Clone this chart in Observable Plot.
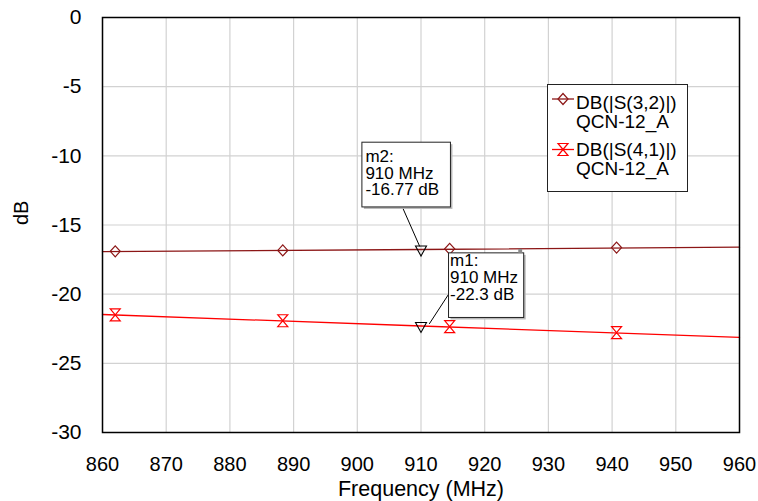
<!DOCTYPE html>
<html>
<head>
<meta charset="utf-8">
<script src="https://cdn.jsdelivr.net/npm/d3@7"></script>
<script src="https://cdn.jsdelivr.net/npm/@observablehq/plot@0.6"></script>
<style>
  html, body { margin: 0; padding: 0; background: white; }
  #wrap { position: relative; width: 758px; height: 501px; font-family: "Liberation Sans", Arial, sans-serif; }
  #legend { position: absolute; left: 547px; top: 84px; width: 141px; height: 108px; box-sizing: border-box; border: 1px solid #222; background: white; }
</style>
</head>
<body>
<div id="wrap"></div>
<script>
// ---- Data ----
const xTicks = [860, 870, 880, 890, 900, 910, 920, 930, 940, 950, 960];
const yTicks = [0, -5, -10, -15, -20, -25, -30];

const lineFreq = [860, 910, 960];
const s32Line = [-16.93, -16.77, -16.60];
const s41Line = [-21.47, -22.30, -23.13];

const markerFreq = [862, 888.3, 914.5, 940.7];
const s32Markers = [-16.90, -16.84, -16.72, -16.63];
const s41Markers = [-21.50, -21.92, -22.35, -22.78];

const seriesNames = ["DB(|S(3,2)|)", "DB(|S(4,1)|)"];
const seriesSub = ["QCN-12_A", "QCN-12_A"];
const seriesColors = ["#8c1616", "#ff0000"];

// marker annotations (data coordinates)
const markerNames = ["m2", "m1"];
const markerAtFreq = [910, 910];
const markerAtDb = [-16.77, -22.3];
const markerText = ["m2:\n910 MHz\n-16.77 dB", "m1:\n910 MHz\n-22.3 dB"];
const boxX1 = [900.8, 914.4];
const boxX2 = [914.7, 926.2];
const boxY1 = [-9.05, -17.05];
const boxY2 = [-13.73, -21.72];
const leadX1 = [907.1, 914.4];
const leadY1 = [-13.73, -19.96];
const leadX2 = [909.8, 911.3];
const leadY2 = [-16.55, -22.15];

// ---- Tables ----
const s32LineData = lineFreq.map((f, i) => ({f, v: s32Line[i]}));
const s41LineData = lineFreq.map((f, i) => ({f, v: s41Line[i]}));
const s32Pts = markerFreq.map((f, i) => ({f, v: s32Markers[i]}));
const s41Pts = markerFreq.map((f, i) => ({f, v: s41Markers[i]}));
const ann = markerNames.map((n, i) => ({
  n, f: markerAtFreq[i], v: markerAtDb[i], t: markerText[i],
  x1: boxX1[i], x2: boxX2[i], y1: boxY1[i], y2: boxY2[i],
  lx1: leadX1[i], ly1: leadY1[i], lx2: leadX2[i], ly2: leadY2[i]
}));

// ---- Symbols ----
const diamond = {draw(c) { c.moveTo(0, -5.5); c.lineTo(5, 0); c.lineTo(0, 5.5); c.lineTo(-5, 0); c.closePath(); }};
const hourglass = {draw(c) { c.moveTo(-5, -6); c.lineTo(5, -6); c.lineTo(-5, 6); c.lineTo(5, 6); c.closePath(); }};
const triDown = {draw(c) { c.moveTo(-5.5, -4.5); c.lineTo(5.5, -4.5); c.lineTo(0, 5.5); c.closePath(); }};

const chart = Plot.plot({
  width: 758,
  height: 501,
  marginLeft: 102,
  marginRight: 19,
  marginTop: 17,
  marginBottom: 69,
  style: {fontFamily: "'Liberation Sans', Arial, sans-serif", color: "black", background: "white"},
  x: {domain: [860, 960]},
  y: {domain: [-30, 0]},
  marks: [
    Plot.gridX(xTicks, {stroke: "#d2d2d2", strokeOpacity: 1, strokeWidth: 1.2}),
    Plot.gridY(yTicks, {stroke: "#d2d2d2", strokeOpacity: 1, strokeWidth: 1.2}),
    Plot.axisX({ticks: xTicks, tickSize: 0, tickPadding: 24, fontSize: 20, label: null, tickFormat: d => String(d)}),
    Plot.axisY({ticks: yTicks, tickSize: 0, tickPadding: 21, fontSize: 21, label: null, tickFormat: d => String(d)}),
    Plot.text(["Frequency (MHz)"], {frameAnchor: "bottom", dy: 57, fontSize: 21.5, lineAnchor: "middle", fill: "black"}),
    Plot.text(["dB"], {frameAnchor: "left", dx: -81, rotate: -90, fontSize: 20, lineAnchor: "middle", fill: "black"}),
    Plot.line(s32LineData, {x: "f", y: "v", stroke: seriesColors[0], strokeWidth: 1.3}),
    Plot.line(s41LineData, {x: "f", y: "v", stroke: seriesColors[1], strokeWidth: 1.3}),
    Plot.dot(s32Pts, {x: "f", y: "v", symbol: diamond, stroke: seriesColors[0], fill: "none", strokeWidth: 1.2}),
    Plot.dot(s41Pts, {x: "f", y: "v", symbol: hourglass, stroke: seriesColors[1], fill: "none", strokeWidth: 1.2}),
    Plot.dot(ann, {x: "f", y: "v", dy: 1, symbol: triDown, stroke: "black", fill: "none", strokeWidth: 1.1}),
    Plot.link(ann, {x1: "lx1", y1: "ly1", x2: "lx2", y2: "ly2", stroke: "black", strokeWidth: 1}),
    Plot.rect(ann, {x1: "x1", x2: "x2", y1: "y1", y2: "y2", dx: 2, dy: 2, fill: "#b8b8b8"}),
    Plot.rect(ann, {x1: "x1", x2: "x2", y1: "y1", y2: "y2", fill: "white", stroke: "#222", strokeWidth: 1}),
    Plot.text([ann[0]], {x: "x1", y: "y1", text: "t", dx: 3, dy: 8, textAnchor: "start", lineAnchor: "top", fontSize: 17, lineHeight: 0.97, fill: "black"}),
    Plot.text([ann[1]], {x: "x1", y: "y1", text: "t", dx: 1, dy: 1, textAnchor: "start", lineAnchor: "top", fontSize: 17, lineHeight: 1.0, fill: "black"}),
    Plot.dot([ann[1]], {x: "x2", y: "y1", dx: -4, dy: -2.5, symbol: "square", r: 2.2, fill: "#8a8a8a"}),
    Plot.frame({stroke: "black", strokeWidth: 1.5})
  ]
});

const wrap = document.getElementById("wrap");
wrap.appendChild(chart);

// ---- Legend ----
const leg = document.createElement("div");
leg.id = "legend";
const ns = "http://www.w3.org/2000/svg";
const svg = document.createElementNS(ns, "svg");
svg.setAttribute("width", "139");
svg.setAttribute("height", "106");
const syms = [diamond, hourglass];
seriesNames.forEach((name, i) => {
  const cy = 14 + i * 50.5;
  const ln = document.createElementNS(ns, "line");
  ln.setAttribute("x1", 4); ln.setAttribute("x2", 26);
  ln.setAttribute("y1", cy); ln.setAttribute("y2", cy);
  ln.setAttribute("stroke", seriesColors[i]); ln.setAttribute("stroke-width", 1.3);
  svg.appendChild(ln);
  const p = d3.path();
  syms[i].draw(p);
  const path = document.createElementNS(ns, "path");
  path.setAttribute("d", p.toString());
  path.setAttribute("transform", `translate(15,${cy})`);
  path.setAttribute("fill", "none");
  path.setAttribute("stroke", seriesColors[i]);
  path.setAttribute("stroke-width", 1.2);
  svg.appendChild(path);
  [name, seriesSub[i]].forEach((t, j) => {
    const tx = document.createElementNS(ns, "text");
    tx.setAttribute("x", 28);
    tx.setAttribute("y", 23.5 + i * 47.6 + j * 19);
    tx.setAttribute("font-size", 19);
    tx.setAttribute("font-family", "'Liberation Sans', Arial, sans-serif");
    tx.setAttribute("fill", "black");
    tx.textContent = t;
    svg.appendChild(tx);
  });
});
leg.appendChild(svg);
wrap.appendChild(leg);
</script>
</body>
</html>
